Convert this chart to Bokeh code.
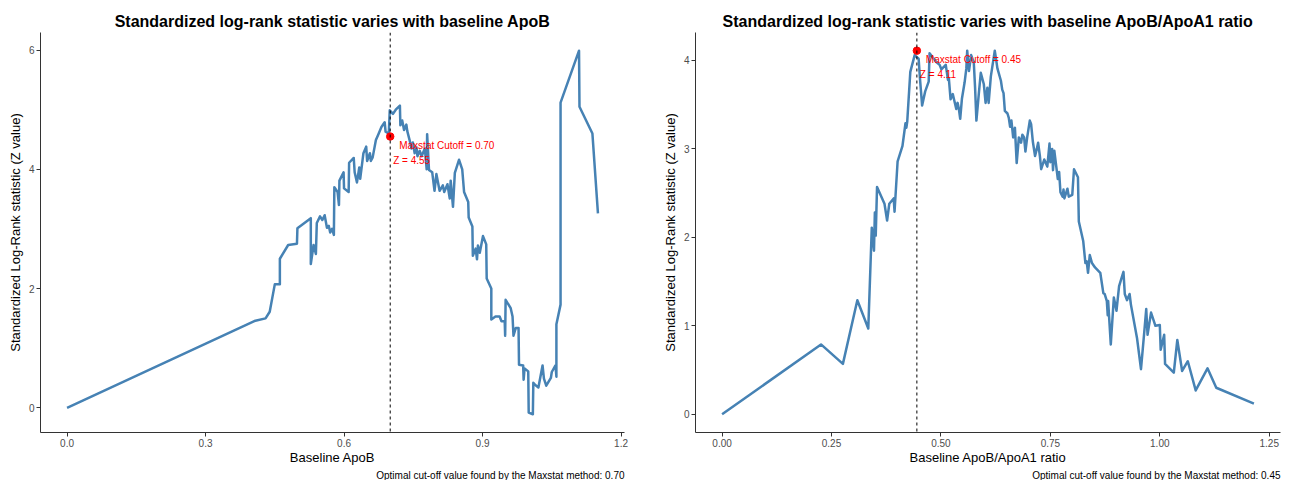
from bokeh.plotting import figure
from bokeh.models import Span, Label, Title, FixedTicker, Range1d
from bokeh.layouts import row
from bokeh.embed import file_html
from bokeh.resources import INLINE

# ---------------- data ----------------
apob_x = [0.000, 0.408, 0.430, 0.439, 0.450, 0.461, 0.461, 0.479, 0.498, 0.499,
          0.528, 0.528, 0.534, 0.539, 0.541, 0.548, 0.553, 0.558, 0.563, 0.567,
          0.570, 0.574, 0.578, 0.579, 0.586, 0.589, 0.590, 0.599, 0.600, 0.610,
          0.611, 0.621, 0.623, 0.628, 0.633, 0.635, 0.642, 0.648, 0.650, 0.656,
          0.658, 0.662, 0.669, 0.674, 0.681, 0.688, 0.690, 0.697, 0.699, 0.706,
          0.712, 0.721, 0.722, 0.726, 0.730, 0.735, 0.737, 0.742, 0.746, 0.749,
          0.753, 0.757, 0.759, 0.764, 0.768, 0.775, 0.779, 0.780, 0.784, 0.791,
          0.796, 0.800, 0.807, 0.814, 0.817, 0.824, 0.829, 0.831, 0.836, 0.840,
          0.849, 0.856, 0.860, 0.869, 0.870, 0.878, 0.879, 0.885, 0.888, 0.890,
          0.894, 0.901, 0.908, 0.909, 0.919, 0.919, 0.928, 0.937, 0.941, 0.948,
          0.949, 0.950, 0.961, 0.965, 0.967, 0.972, 0.978, 0.979, 0.988, 0.989,
          0.991, 0.999, 1.000, 1.009, 1.010, 1.013, 1.021, 1.030, 1.033, 1.038,
          1.048, 1.050, 1.058, 1.060, 1.060, 1.069, 1.069, 1.109, 1.110, 1.138,
          1.150]
apob_z = [0.00, 1.46, 1.50, 1.61, 2.07, 2.07, 2.50, 2.73, 2.75, 3.01,
          3.18, 2.41, 2.73, 2.58, 3.10, 3.21, 3.15, 3.23, 3.02, 3.05,
          2.94, 3.00, 2.90, 3.70, 3.62, 3.40, 3.81, 3.95, 3.68, 3.62,
          4.11, 4.19, 3.95, 3.78, 4.03, 3.84, 4.27, 4.38, 4.14, 4.27,
          4.14, 4.20, 4.49, 4.58, 4.71, 4.79, 4.63, 4.60, 4.99, 4.93,
          5.00, 5.07, 4.74, 4.82, 4.66, 4.75, 4.64, 4.49, 4.35, 4.45,
          4.27, 4.37, 4.22, 4.31, 4.22, 4.35, 4.00, 4.59, 3.99, 3.95,
          3.64, 3.92, 3.64, 3.73, 3.62, 3.75, 3.51, 3.81, 3.37, 3.94,
          4.16, 4.00, 3.62, 3.45, 3.19, 3.04, 2.55, 2.67, 2.49, 2.72,
          2.60, 2.88, 2.74, 2.17, 2.00, 1.48, 1.53, 1.53, 1.45, 1.45,
          1.21, 1.81, 1.67, 1.53, 1.21, 1.34, 1.34, 0.72, 0.71, 0.47,
          0.66, 0.61, -0.08, -0.11, 0.42, 0.39, 0.34, 0.71, 0.49, 0.37,
          0.50, 0.60, 0.71, 0.52, 1.40, 1.73, 5.12, 5.99, 5.05, 4.60,
          3.26]

ratio_x = [0.000, 0.226, 0.276, 0.309, 0.334, 0.342, 0.347, 0.349, 0.351, 0.354,
           0.371, 0.377, 0.382, 0.392, 0.394, 0.401, 0.412, 0.419, 0.421, 0.423,
           0.430, 0.440, 0.449, 0.452, 0.457, 0.464, 0.472, 0.474, 0.490, 0.497,
           0.501, 0.511, 0.516, 0.518, 0.522, 0.527, 0.535, 0.538, 0.541, 0.544,
           0.548, 0.554, 0.558, 0.560, 0.564, 0.569, 0.575, 0.578, 0.581, 0.587,
           0.591, 0.598, 0.602, 0.606, 0.609, 0.614, 0.623, 0.629, 0.637, 0.640,
           0.643, 0.646, 0.652, 0.655, 0.658, 0.661, 0.665, 0.669, 0.673, 0.678,
           0.683, 0.686, 0.690, 0.693, 0.697, 0.703, 0.706, 0.710, 0.715, 0.719,
           0.722, 0.726, 0.729, 0.736, 0.743, 0.748, 0.750, 0.754, 0.756, 0.759,
           0.763, 0.767, 0.770, 0.773, 0.778, 0.780, 0.782, 0.789, 0.792, 0.800,
           0.804, 0.813, 0.815, 0.825, 0.830, 0.833, 0.836, 0.840, 0.845, 0.852,
           0.864, 0.871, 0.874, 0.879, 0.881, 0.882, 0.888, 0.895, 0.901, 0.907,
           0.915, 0.917, 0.920, 0.925, 0.931, 0.934, 0.948, 0.957, 0.964, 0.969,
           0.972, 0.980, 0.990, 1.000, 1.002, 1.010, 1.012, 1.032, 1.040, 1.051,
           1.064, 1.082, 1.109, 1.129, 1.215]
ratio_z = [0.00, 0.79, 0.57, 1.29, 0.97, 2.11, 1.85, 2.28, 2.02, 2.57,
           2.38, 2.19, 2.38, 2.44, 2.29, 2.86, 3.03, 3.29, 3.24, 3.31,
           3.87, 4.06, 4.02, 3.80, 3.49, 3.65, 3.76, 4.08, 3.98, 3.95,
           3.90, 3.95, 3.78, 3.80, 3.56, 3.62, 3.45, 3.52, 3.45, 3.34,
           3.57, 3.75, 3.91, 4.11, 3.88, 4.06, 3.98, 3.69, 3.32, 3.65,
           3.86, 3.73, 3.52, 3.69, 3.52, 3.82, 4.11, 3.91, 3.77, 3.67,
           3.63, 3.43, 3.40, 3.35, 3.25, 3.32, 3.13, 3.24, 2.84, 3.13,
           3.07, 3.16, 3.13, 2.97, 3.13, 3.32, 3.28, 3.08, 2.92, 3.00,
           3.07, 2.92, 2.77, 2.88, 2.80, 3.06, 2.85, 3.00, 2.76, 2.98,
           2.82, 2.66, 2.74, 2.51, 2.46, 2.54, 2.44, 2.55, 2.46, 2.48,
           2.77, 2.68, 2.18, 1.96, 1.71, 1.73, 1.60, 1.80, 1.71, 1.66,
           1.60, 1.37, 1.36, 1.28, 1.12, 1.28, 0.79, 1.32, 1.17, 1.45,
           1.58, 1.61, 1.36, 1.29, 1.36, 1.24, 0.86, 0.51, 0.90, 1.19,
           0.90, 1.15, 1.00, 1.01, 0.73, 0.90, 0.57, 0.47, 0.84, 0.49,
           0.60, 0.27, 0.52, 0.30, 0.12]

apob_cutoff = 0.70
apob_zmax = 4.55
ratio_cutoff = 0.445
ratio_zmax = 4.11

apob_xticks = [0.0, 0.3, 0.6, 0.9, 1.2]
apob_xtick_labels = ["0.0", "0.3", "0.6", "0.9", "1.2"]
apob_yticks = [0, 2, 4, 6]
ratio_xticks = [0.0, 0.25, 0.5, 0.75, 1.0, 1.25]
ratio_xtick_labels = ["0.00", "0.25", "0.50", "0.75", "1.00", "1.25"]
ratio_yticks = [0, 1, 2, 3, 4]

apob_title = "Standardized log-rank statistic varies with baseline ApoB"
ratio_title = "Standardized log-rank statistic varies with baseline ApoB/ApoA1 ratio"
apob_xlabel = "Baseline ApoB"
ratio_xlabel = "Baseline ApoB/ApoA1 ratio"
ylabel = "Standardized Log-Rank statistic (Z value)"

FONT = "Liberation Sans"
LINE_COLOR = "#4682B4"


def panel(x, z, cut, zmax, title, xlabel, xticks, xtick_labels, yticks,
          width, bl, br):
    xmin, xmax = min(x), max(x)
    ymin, ymax = min(min(z), zmax), max(max(z), zmax)
    dx, dy = 0.05 * (xmax - xmin), 0.05 * (ymax - ymin)
    p = figure(width=width, height=480,
               x_range=Range1d(xmin - dx, xmax + dx),
               y_range=Range1d(ymin - dy, ymax + dy),
               output_backend="svg", toolbar_location=None,
               min_border_left=bl, min_border_right=br,
               min_border_top=32, min_border_bottom=48)
    p.xgrid.visible = False
    p.ygrid.visible = False
    p.outline_line_color = None
    p.background_fill_color = "white"
    p.border_fill_color = "white"

    p.title.text = title
    p.title.align = "center"
    p.title.text_font = FONT
    p.title.text_font_size = "16px"
    p.title.text_font_style = "bold"
    p.title.text_color = "black"
    p.title.standoff = 6

    for ax in (p.xaxis[0], p.yaxis[0]):
        ax.axis_line_color = "#333333"
        ax.axis_line_width = 1
        ax.major_tick_line_color = "#333333"
        ax.major_tick_in = 0
        ax.major_tick_out = 4
        ax.minor_tick_line_color = None
        ax.major_label_text_font = FONT
        ax.major_label_text_font_size = "10px"
        ax.major_label_text_color = "#4D4D4D"
        ax.major_label_standoff = 2
        ax.axis_label_text_font = FONT
        ax.axis_label_text_font_size = "13px"
        ax.axis_label_text_font_style = "normal"
        ax.axis_label_text_color = "black"

    p.xaxis[0].ticker = FixedTicker(ticks=xticks)
    p.xaxis[0].major_label_overrides = {t: s for t, s in zip(xticks, xtick_labels)}
    p.xaxis[0].axis_label = xlabel
    p.xaxis[0].axis_label_standoff = 0
    p.yaxis[0].ticker = FixedTicker(ticks=yticks)
    p.yaxis[0].axis_label = ylabel
    p.yaxis[0].axis_label_standoff = 3

    p.line(x, z, line_color=LINE_COLOR, line_width=2.5, line_join="round")
    p.add_layout(Span(location=cut, dimension="height", line_color="black",
                      line_dash="3 3", line_width=1))
    p.scatter([cut], [zmax], size=7.5, color="red")
    p.add_layout(Label(x=cut, y=zmax, x_offset=9, y_offset=-9,
                       text=f"Maxstat Cutoff = {cut:.2f}", text_color="red",
                       text_font=FONT, text_font_size="10px",
                       text_baseline="middle", text_align="left"))
    p.add_layout(Label(x=cut, y=zmax, x_offset=3, y_offset=-24,
                       text=f"Z = {zmax:.2f}", text_color="red",
                       text_font=FONT, text_font_size="10px",
                       text_baseline="middle", text_align="left"))
    cap = Title(text=f"Optimal cut-off value found by the Maxstat method: {cut:.2f}",
                align="right", text_font=FONT, text_font_size="10px",
                text_font_style="normal", text_color="black", standoff=0)
    p.add_layout(cap, "below")
    return p


p1 = panel(apob_x, apob_z, apob_cutoff, apob_zmax, apob_title, apob_xlabel,
           apob_xticks, apob_xtick_labels, apob_yticks, 644, 40, 20)
p2 = panel(ratio_x, ratio_z, ratio_cutoff, ratio_zmax, ratio_title, ratio_xlabel,
           ratio_xticks, ratio_xtick_labels, ratio_yticks, 637, 51, 1)

layout = row(p1, p2)
open("out.html", "w").write(file_html(layout, INLINE))
